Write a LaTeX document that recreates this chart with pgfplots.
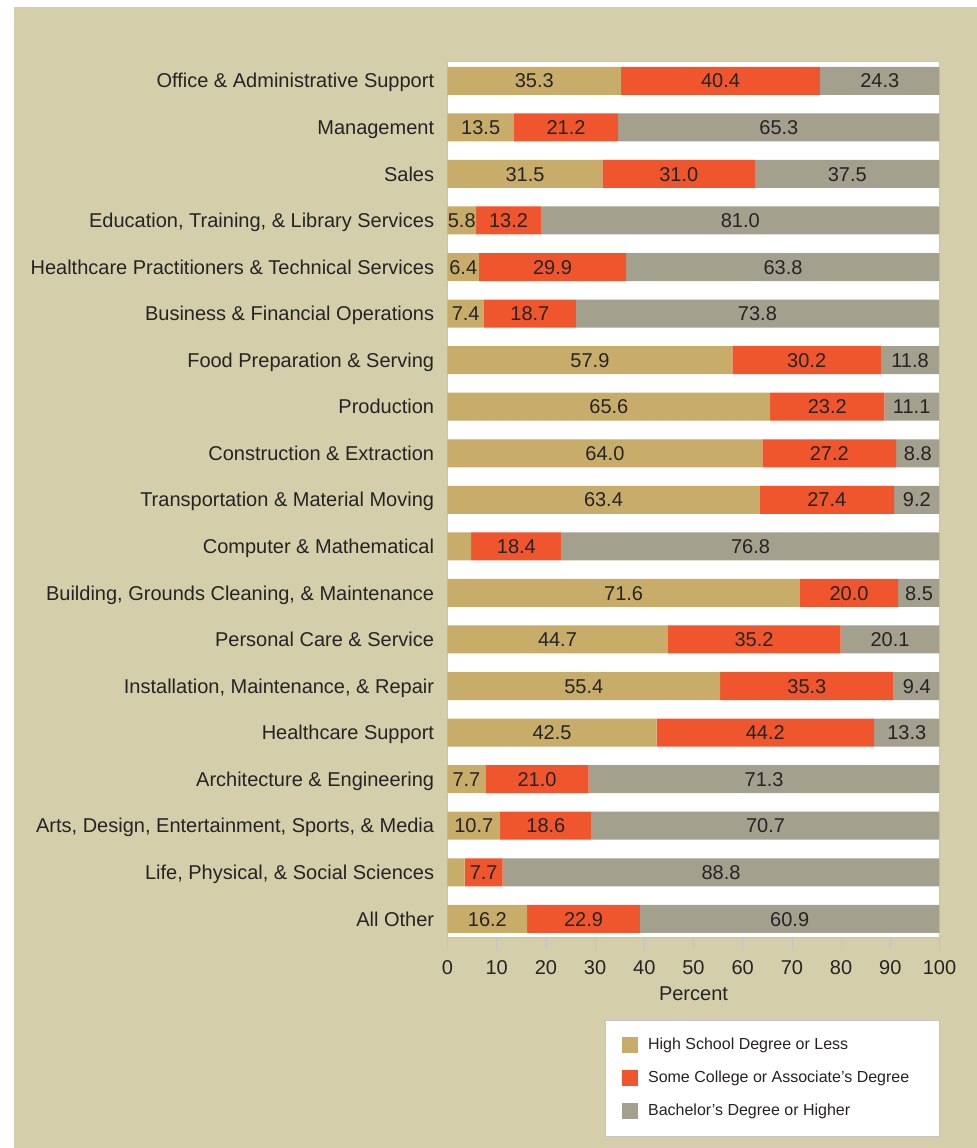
\documentclass[border=0pt]{standalone}
\usepackage{pgfplots}
\pgfplotsset{compat=1.18}
\usepackage{pgfplotstable}
\usepackage{fontspec}
\setmainfont{Liberation Sans}
\definecolor{bg}{HTML}{D4CFAA}
\definecolor{hs}{HTML}{C8AD6A}
\definecolor{sc}{HTML}{F0562E}
\definecolor{ba}{HTML}{A3A08E}
\definecolor{txt}{HTML}{262324}
\definecolor{frame}{HTML}{C4C4C4}

\pgfplotstableread{
idx hs sc ba hsl scl bal
0 35.3 40.4 24.3 35.3 40.4 24.3
1 13.5 21.2 65.3 13.5 21.2 65.3
2 31.5 31.0 37.5 31.5 31.0 37.5
3 5.8 13.2 81.0 5.8 13.2 81.0
4 6.4 29.9 63.8 6.4 29.9 63.8
5 7.4 18.7 73.8 7.4 18.7 73.8
6 57.9 30.2 11.8 57.9 30.2 11.8
7 65.6 23.2 11.1 65.6 23.2 11.1
8 64.0 27.2 8.8 64.0 27.2 8.8
9 63.4 27.4 9.2 63.4 27.4 9.2
10 4.8 18.4 76.8 {} 18.4 76.8
11 71.6 20.0 8.5 71.6 20.0 8.5
12 44.7 35.2 20.1 44.7 35.2 20.1
13 55.4 35.3 9.4 55.4 35.3 9.4
14 42.5 44.2 13.3 42.5 44.2 13.3
15 7.7 21.0 71.3 7.7 21.0 71.3
16 10.7 18.6 70.7 10.7 18.6 70.7
17 3.5 7.7 88.8 {} 7.7 88.8
18 16.2 22.9 60.9 16.2 22.9 60.9
}\data

\pgfplotsset{
  common/.style={
    at={(223.75pt,105.5pt)}, anchor=south west,
    scale only axis, width=246pt, height=437.9pt,
    xmin=0, xmax=100, ymin=-0.42, ymax=18.39, y dir=reverse,
  }
}

\begin{document}
\begin{tikzpicture}
\useasboundingbox (0,0) rectangle (488.5pt,574pt);
\fill[white] (0,0) rectangle (488.5pt,574pt);
\fill[bg] (7pt,0) rectangle (488.5pt,570.5pt);
\begin{axis}[
  common,
  xbar stacked, bar width=14pt,
  axis background/.style={fill=white},
  axis line style={frame},
  xtick={0,10,...,100},
  xticklabels={0,10,20,30,40,50,60,70,80,90,100},
  tick align=outside, xtick pos=bottom, major tick length=6.5pt,
  xtick style={frame},
  ytick={0,...,18}, ytick style={draw=none},
  yticklabels={Office \& Administrative Support, Management, Sales,
    {Education, Training, \& Library Services},
    Healthcare Practitioners \& Technical Services,
    Business \& Financial Operations, Food Preparation \& Serving,
    Production, Construction \& Extraction,
    Transportation \& Material Moving, Computer \& Mathematical,
    {Building, Grounds Cleaning, \& Maintenance}, Personal Care \& Service,
    {Installation, Maintenance, \& Repair}, Healthcare Support,
    Architecture \& Engineering,
    {Arts, Design, Entertainment, Sports, \& Media},
    {Life, Physical, \& Social Sciences}, All Other},
  tick label style={font=\fontsize{10}{12}\selectfont, text=txt},
  yticklabel style={inner sep=0pt, text height=7.16pt, text depth=0pt},
  xticklabel style={yshift=-1.5pt},
  xlabel={Percent},
  xlabel style={at={(axis description cs:0.5,0)}, anchor=center, yshift=-28.5pt, font=\fontsize{10}{12}\selectfont, text=txt},
  legend image code/.code={\fill[#1] (0pt,-4pt) rectangle (8pt,4pt);},
  legend cell align=left,
  legend style={draw=frame, fill=white, at={(1,0)}, anchor=north east, yshift=-41.5pt,
    inner xsep=8.5pt, inner ysep=6.4pt, row sep=4.5pt, column sep=3pt,
    font=\fontsize{8}{9.6}\selectfont, text=txt,
    nodes={text height=6pt, text depth=2pt}},
]
\addplot[fill=hs, draw=none] table[x=hs, y=idx] {\data};
\addlegendentry{\makebox[135pt][l]{High School Degree or Less}}
\addplot[fill=sc, draw=none] table[x=sc, y=idx] {\data};
\addlegendentry{\makebox[135pt][l]{Some College or Associate’s Degree}}
\addplot[fill=ba, draw=none] table[x=ba, y=idx] {\data};
\addlegendentry{\makebox[135pt][l]{Bachelor’s Degree or Higher}}
\end{axis}
\begin{axis}[
  common, hide axis,
  nodes near coords,
  point meta=explicit symbolic,
  nodes near coords style={anchor=center, inner sep=0pt, text height=7.16pt, text depth=0pt,
    font=\fontsize{10}{12}\selectfont, text=txt},
]
\addplot[draw=none, mark=none] table[x expr=\thisrow{hs}/2, y=idx, meta=hsl] {\data};
\addplot[draw=none, mark=none] table[x expr=\thisrow{hs}+\thisrow{sc}/2, y=idx, meta=scl] {\data};
\addplot[draw=none, mark=none] table[x expr=\thisrow{hs}+\thisrow{sc}+\thisrow{ba}/2, y=idx, meta=bal] {\data};
\end{axis}
\end{tikzpicture}
\end{document}
